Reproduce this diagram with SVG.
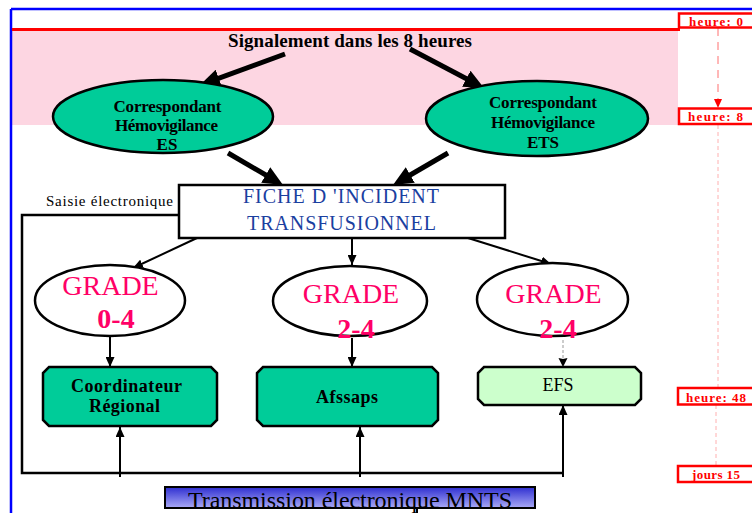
<svg xmlns="http://www.w3.org/2000/svg" width="752" height="513" viewBox="0 0 752 513">
<style>
.serif{font-family:"Liberation Serif","Times New Roman",serif}
.b{font-weight:bold}
.eltxt{font-family:"Liberation Serif",serif;font-weight:bold;font-size:17px;fill:#000;text-anchor:middle}
.boxtxt{font-family:"Liberation Serif",serif;font-weight:bold;font-size:18px;fill:#000;text-anchor:middle}
.grade{font-family:"Liberation Serif",serif;font-size:28px;fill:#FF0066;text-anchor:middle}
.gnum{font-family:"Liberation Serif",serif;font-weight:bold;font-size:28px;fill:#FF0066;text-anchor:middle}
.tag rect{fill:#fff;stroke:#FF0000;stroke-width:2.5}
.tag text{font-family:"Liberation Serif",serif;font-weight:bold;font-size:13px;fill:#FF0000}
.ell{fill:#00CC99;stroke:#000;stroke-width:2.5}
.gell{fill:#fff;stroke:#000;stroke-width:2.5}
.thick{stroke:#000;stroke-width:5;fill:none;marker-end:url(#big)}
.thin{stroke:#000;stroke-width:2;fill:none;marker-end:url(#small)}
</style>
<defs>
<marker id="big" markerUnits="userSpaceOnUse" markerWidth="20" markerHeight="18" refX="12" refY="9" orient="auto"><path d="M0,0 L20,9 L0,18 Z" fill="#000"/></marker>
<marker id="small" markerUnits="userSpaceOnUse" markerWidth="10" markerHeight="9" refX="10" refY="4.5" orient="auto"><path d="M0,0 L10,4.5 L0,9 Z" fill="#000"/></marker>
<marker id="redhead" markerUnits="userSpaceOnUse" markerWidth="9" markerHeight="8" refX="9" refY="4" orient="auto"><path d="M0,0 L9,4 L0,8 Z" fill="#FF0000"/></marker>
<linearGradient id="bar" x1="0" y1="0" x2="0" y2="1">
<stop offset="0" stop-color="#2E2ED0"/>
<stop offset="1" stop-color="#AAAAF6"/>
</linearGradient>
</defs>

<rect x="12" y="30" width="666" height="95" fill="#FDD6E2"/>
<line x1="11" y1="9" x2="752" y2="9" stroke="#0000FF" stroke-width="2.5"/>
<line x1="11" y1="9" x2="11" y2="513" stroke="#0000FF" stroke-width="2.5"/>
<line x1="12" y1="29.5" x2="680" y2="29.5" stroke="#FF0000" stroke-width="3"/>

<g id="timeline">
<line x1="718" y1="28" x2="718" y2="108" stroke="#FF7070" stroke-width="1" stroke-dasharray="8,6" marker-end="url(#redhead)"/>
<line x1="718" y1="125" x2="718" y2="387" stroke="#FFB0B0" stroke-width="1" stroke-dasharray="4,3"/>
<line x1="716" y1="405" x2="716" y2="465" stroke="#FFB0B0" stroke-width="1" stroke-dasharray="4,3"/>
</g>
<g id="tag-h0" class="tag"><rect x="679" y="13.5" width="80" height="14"/><text x="689" y="25.5" textLength="54" lengthAdjust="spacing">heure: 0</text></g>
<g id="tag-h8" class="tag"><rect x="679" y="108.5" width="80" height="15.5"/><text x="688" y="121" textLength="55" lengthAdjust="spacing">heure: 8</text></g>
<g id="tag-h48" class="tag"><rect x="678" y="388" width="80" height="16.5"/><text x="686" y="401.5" textLength="60" lengthAdjust="spacing">heure: 48</text></g>
<g id="tag-j15" class="tag"><rect x="678" y="466" width="80" height="16"/><text x="692" y="479" textLength="48" lengthAdjust="spacing">jours 15</text></g>

<g id="title"><text class="serif b" x="350" y="47" font-size="19" text-anchor="middle" textLength="244" lengthAdjust="spacing">Signalement dans les 8 heures</text></g>

<g id="connectors">
<line class="thick" x1="285" y1="54" x2="207.5" y2="82.3"/>
<line class="thick" x1="410" y1="49" x2="476.9" y2="84.3"/>
<line class="thick" x1="228" y1="153" x2="276.1" y2="181"/>
<line class="thick" x1="448" y1="153" x2="399.9" y2="181"/>
<line class="thin" x1="197" y1="238" x2="133" y2="268"/>
<line class="thin" x1="352" y1="238" x2="352" y2="265"/>
<line class="thin" x1="468" y1="238" x2="551" y2="264"/>
<line class="thin" x1="110" y1="337" x2="110" y2="367"/>
<line class="thin" x1="352" y1="338" x2="352" y2="367"/>
<line x1="563" y1="340" x2="563" y2="359" stroke="#999" stroke-width="1" stroke-dasharray="3,2"/>
<path d="M563,359 L567.5,358 L563,367 L558.5,358 Z" fill="#000"/>
<polyline points="183,215 22,215 22,473 563,473" fill="none" stroke="#000" stroke-width="2.5"/>
<line class="thin" x1="120" y1="477" x2="120" y2="427"/>
<line class="thin" x1="360" y1="477" x2="360" y2="427"/>
<line class="thin" x1="563" y1="477" x2="563" y2="405"/>
<line x1="417" y1="508" x2="417" y2="513" stroke="#000" stroke-width="2"/>
</g>

<g id="corr-es">
<ellipse class="ell" cx="163" cy="116.5" rx="110" ry="36.5"/>
<text class="eltxt" x="167.5" y="112" textLength="108" lengthAdjust="spacing">Correspondant</text>
<text class="eltxt" x="166.5" y="131" textLength="103" lengthAdjust="spacing">Hémovigilance</text>
<text class="eltxt" x="167" y="150">ES</text>
</g>
<g id="corr-ets">
<ellipse class="ell" cx="537" cy="118.5" rx="111" ry="37.5"/>
<text class="eltxt" x="543" y="108" textLength="108" lengthAdjust="spacing">Correspondant</text>
<text class="eltxt" x="543" y="128" textLength="104" lengthAdjust="spacing">Hémovigilance</text>
<text class="eltxt" x="543" y="148">ETS</text>
</g>

<g id="fiche">
<rect x="179" y="185" width="326" height="53" fill="#fff" stroke="#000" stroke-width="2.5"/>
<text class="serif" x="341" y="203" font-size="20" fill="#1A40A0" text-anchor="middle" textLength="196" lengthAdjust="spacing">FICHE D 'INCIDENT</text>
<text class="serif" x="341.5" y="230" font-size="20" fill="#1A40A0" text-anchor="middle" textLength="189" lengthAdjust="spacing">TRANSFUSIONNEL</text>
</g>
<g id="saisie"><text class="serif" x="46" y="206" font-size="15" textLength="127" lengthAdjust="spacing">Saisie électronique</text></g>

<g id="grade-04">
<ellipse class="gell" cx="110" cy="300.5" rx="75" ry="35.5"/>
<text class="grade" x="110.5" y="295">GRADE</text>
<text class="gnum" x="116" y="328">0-4</text>
</g>
<g id="grade-24a">
<ellipse class="gell" cx="350" cy="301" rx="77" ry="35"/>
<text class="grade" x="351" y="303">GRADE</text>
<text class="gnum" x="356" y="338">2-4</text>
</g>
<g id="grade-24b">
<ellipse class="gell" cx="552.5" cy="299.5" rx="75.5" ry="36.5"/>
<text class="grade" x="553.5" y="303">GRADE</text>
<text class="gnum" x="558" y="338">2-4</text>
</g>

<g id="coord">
<path d="M49,367 H211 L217,373 V420 L211,426 H49 L43,420 V373 Z" fill="#00CC99" stroke="#000" stroke-width="2.5"/>
<text class="boxtxt" x="126.5" y="392" textLength="111" lengthAdjust="spacing">Coordinateur</text>
<text class="boxtxt" x="124.5" y="412" textLength="71" lengthAdjust="spacing">Régional</text>
</g>
<g id="afssaps">
<path d="M263,367 H432 L438,373 V420 L432,426 H263 L257,420 V373 Z" fill="#00CC99" stroke="#000" stroke-width="2.5"/>
<text class="boxtxt" x="347" y="403" textLength="62" lengthAdjust="spacing">Afssaps</text>
</g>
<g id="efs">
<path d="M484,367 H635 L641,373 V399 L635,405 H484 L478,399 V373 Z" fill="#CCFFCC" stroke="#000" stroke-width="2.5"/>
<text class="serif" x="558" y="391" font-size="18" text-anchor="middle">EFS</text>
</g>

<g id="transmission">
<rect x="165" y="487" width="370" height="21" fill="url(#bar)" stroke="#000" stroke-width="2"/>
<text class="serif" x="350" y="508" font-size="24" text-anchor="middle" textLength="324" lengthAdjust="spacing">Transmission électronique MNTS</text>
</g>
</svg>
